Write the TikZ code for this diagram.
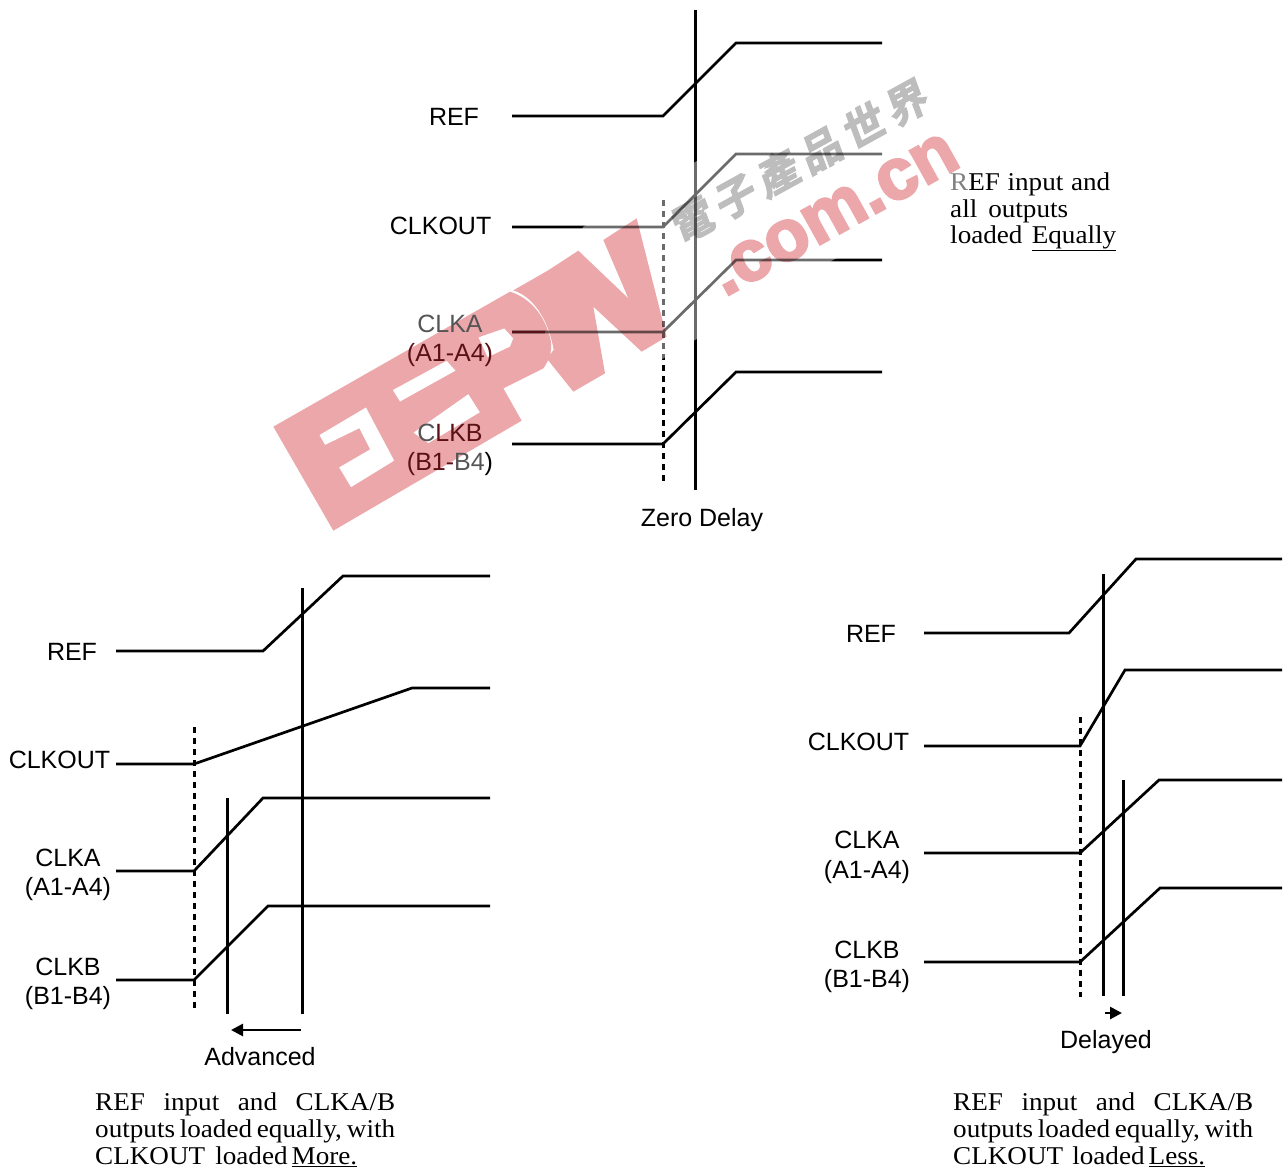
\documentclass[tikz,border=0pt]{standalone}
\usepackage{fontspec}
\usetikzlibrary{arrows.meta}
\setmainfont[FakeStretch=1.06]{Liberation Serif}
\setsansfont{Liberation Sans}
\newfontfamily\cjkwm[FakeSlant=0.15,FakeBold=2.5]{Noto Sans CJK TC Bold}
\newfontfamily\wmlatin[FakeBold=3.5]{Liberation Sans Bold}
\definecolor{wmpink}{HTML}{ECA7AB}
\definecolor{wmgrey}{HTML}{BDBDBD}
\definecolor{lblgrey}{HTML}{555555}
\definecolor{lblred}{HTML}{5A1015}
\tikzset{
  x=1pt,y=-1pt,
  wave/.style={line width=2.7pt,line join=miter},
  marker/.style={line width=3pt},
  zeroline/.style={line width=3pt,dash pattern=on 5.5pt off 5.5pt},
  lab/.style={font=\fontsize{25}{26}\selectfont\sffamily,inner sep=0pt},
  para/.style={font=\fontsize{25.6}{27}\selectfont\rmfamily,inner sep=0pt,anchor=base west},
  arrowline/.style={line width=2.7pt,-{Triangle[length=12pt,width=12pt]}}
}
\newcommand{\jline}[2]{\makebox[#1pt][s]{#2}}
\begin{document}
\begin{tikzpicture}
\useasboundingbox (0,0) rectangle (1288,1171);
% ---------- top group
\draw[marker] (695,10) -- (695,490);
\draw[zeroline] (663,200) -- (663,485);
\draw[wave] (512,116) -- (663,116) -- (736,43) -- (882,43);
\draw[wave] (512,227) -- (663,227) -- (736,154) -- (882,154);
\draw[wave] (512,332) -- (663,332) -- (736,260) -- (882,260);
\draw[wave] (512,444) -- (663,444) -- (736,372) -- (882,372);
% ---------- watermark veil and marks
\fill[white,opacity=.42] (583,227) -- (890,49) -- (975,178) -- (695,340) -- (560,418) -- (545,332) -- cycle;
\begin{scope}[blend mode=multiply]
\begin{scope}[transparency group]
\begin{scope}[shift={(265,210)},x=0.33333pt,y=-0.33333pt]
\fill[wmpink,even odd rule]
  (25,650) -- (735,245) .. controls (790,262) and (840,310) .. (858,395)
  .. controls (862,425) and (850,455) .. (835,475) -- (715,535) -- (770,632) -- (205,962) -- cycle
  (163,675) -- (303,592) -- (388,752) -- (258,832) -- (222,772) -- (315,718) -- (283,655) -- (180,705) -- cycle
  (383,540) -- (545,452) -- (572,482) -- (405,575) -- cycle
  (445,668) -- (610,552) -- (645,607) -- (490,700) -- cycle
  (640,382) -- (718,355) -- (745,385) -- (735,410) -- (668,442) -- cycle;
\fill[wmpink]
  (848,182) -- (940,122) -- (1090,265) -- (1015,90) -- (1115,25) -- (1205,380) -- (1130,425)
  -- (985,290) -- (1020,490) -- (925,545) -- (845,445) -- (866,420) .. controls (849,320) and (799,258) .. (745,241) -- cycle;
\end{scope}
\node[wmpink,font=\fontsize{72}{72}\selectfont\wmlatin,rotate=29,inner sep=0pt] (wmcom) at (834.5,214.5) {.com.cn};
\node[wmgrey,font=\fontsize{42}{42}\selectfont\cjkwm,rotate=28.9,inner sep=0pt] (wmcn) at (798,162) {電\,子\,產\,品\,世\,界};
\end{scope}
\end{scope}
\draw[wave,lblred] (512,332) -- (545,332);
% ---------- top labels
\node[lab] (t1) at (454,117) {REF};
\node[lab,anchor=east] (t2) at (491.5,226) {CLKOUT};
\node[lab,text=lblgrey] (t3) at (450,324) {CLKA};
\node[lab,text=lblred] (t4) at (450,355) {(A1-A4)};
\node[lab] (t5) at (450,433) {\textcolor{lblgrey}{C}\textcolor{lblred}{LKB}};
\node[lab] (t6) at (450,464) {\textcolor{lblred}{(B1-}\textcolor{lblgrey}{B4})};
\node[lab] (t7) at (702,520) {Zero Delay};
\node[para] (p1) at (950,190) {\jline{160}{\textcolor{gray}{R}EF input and}};
\node[para] (p2) at (950,217) {\jline{118}{all outputs}};
\node[para] (p3) at (950,243) {\jline{166}{loaded \underline{Equally}}};
% ---------- left group
\draw[marker] (302,588) -- (302,1014);
\draw[marker] (227,798) -- (227,1014);
\draw[zeroline] (194,727) -- (194,1010);
\draw[wave] (116,651) -- (263,651) -- (343,576) -- (490,576);
\draw[wave] (116,764) -- (194,764) -- (412,688) -- (490,688);
\draw[wave] (116,871) -- (194,871) -- (263,798) -- (490,798);
\draw[wave] (116,980) -- (194,980) -- (268,906) -- (490,906);
\coordinate (aR) at (301,1030);
\coordinate (aL) at (231,1030);
\draw[arrowline] (aR) -- (aL);
\node[lab] (l1) at (72,652) {REF};
\node[lab] (l2) at (59.5,760) {CLKOUT};
\node[lab] (l3) at (68,858) {CLKA};
\node[lab] (l4) at (68,889) {(A1-A4)};
\node[lab] (l5) at (68,967) {CLKB};
\node[lab] (l6) at (68,998) {(B1-B4)};
\node[lab] (l7) at (260,1057) {Advanced};
\node[para] (lp1) at (95,1110) {\jline{300}{REF\hfill input\hfill and\hfill CLKA/B}};
\node[para] (lp2) at (95,1137) {\jline{300}{outputs loaded equally, with}};
\node[para] (lp3) at (95,1164) {\jline{262}{CLKOUT\hfill loaded\hspace{4pt}\underline{More.}}};
% ---------- right group
\draw[marker] (1103,574) -- (1103,996);
\draw[marker] (1123,780) -- (1123,996);
\draw[zeroline] (1080,717) -- (1080,997);
\draw[wave] (924,633) -- (1069,633) -- (1136,559) -- (1282,559);
\draw[wave] (924,746) -- (1080,746) -- (1125,670) -- (1282,670);
\draw[wave] (924,853) -- (1080,853) -- (1159,780) -- (1282,780);
\draw[wave] (924,962) -- (1080,962) -- (1160,888) -- (1282,888);
\coordinate (bL) at (1105,1013);
\coordinate (bR) at (1122,1013);
\draw[arrowline] (bL) -- (bR);
\node[lab] (r1) at (871,634) {REF};
\node[lab] (r2) at (858.5,742) {CLKOUT};
\node[lab] (r3) at (867,840) {CLKA};
\node[lab] (r4) at (867,872) {(A1-A4)};
\node[lab] (r5) at (867,950) {CLKB};
\node[lab] (r6) at (867,981) {(B1-B4)};
\node[lab] (r7) at (1106,1042) {Delayed};
\node[para] (rp1) at (953,1110) {\jline{300}{REF\hfill input\hfill and\hfill CLKA/B}};
\node[para] (rp2) at (953,1137) {\jline{300}{outputs loaded equally, with}};
\node[para] (rp3) at (953,1164) {\jline{252}{CLKOUT\hfill loaded\hspace{4pt}\underline{Less.}}};
\end{tikzpicture}
\end{document}
